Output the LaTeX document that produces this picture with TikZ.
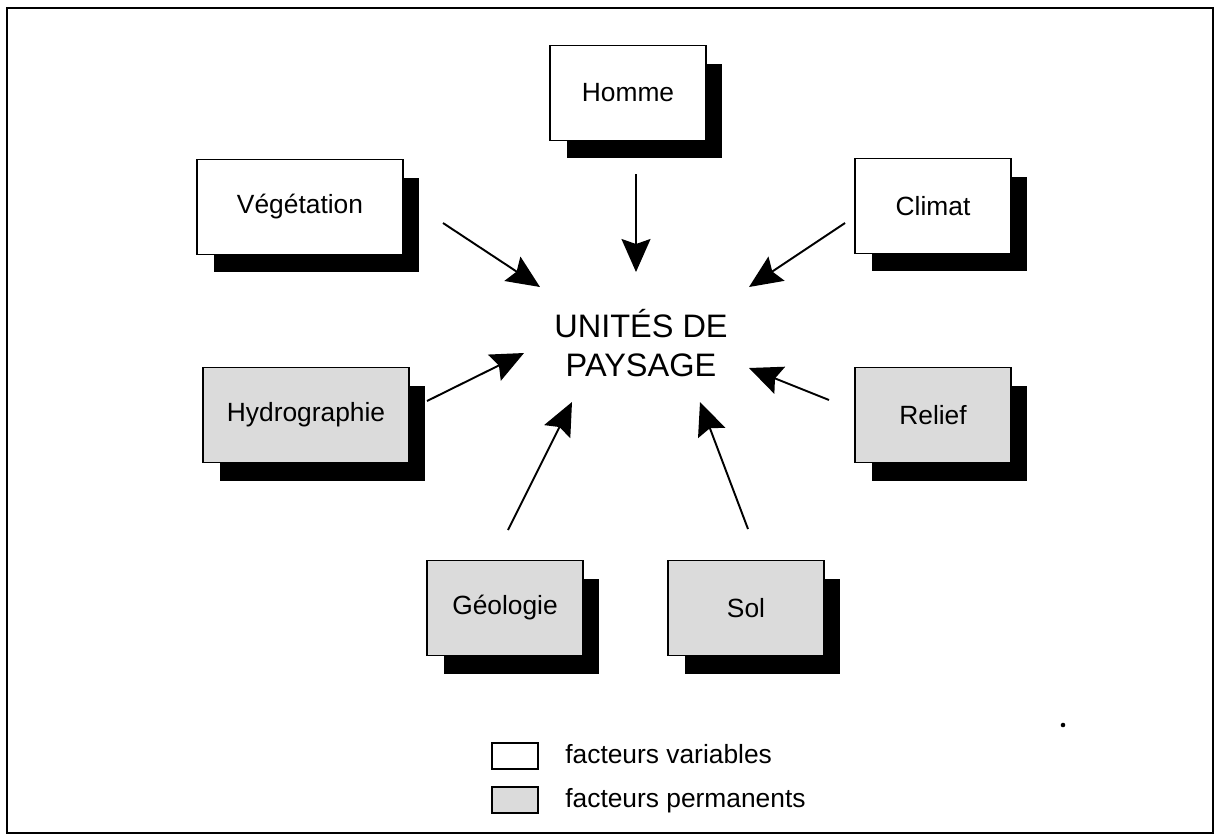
\documentclass[tikz,border=0pt]{standalone}
\usepackage{fontspec}
\setmainfont{Liberation Sans}
\usetikzlibrary{arrows.meta,shadows}

\tikzset{
  facteur/.style={draw, line width=1.1pt, minimum width=3.12cm, minimum height=1.9cm,
    font=\fontsize{15}{18}\selectfont,
    drop shadow={shadow xshift=0.33cm, shadow yshift=-0.36cm, fill=black, opacity=1}},
  fvariable/.style={facteur, fill=white},
  fpermanent/.style={facteur, fill=black!14},
  legende/.style={draw, line width=1.1pt, minimum width=0.92cm, minimum height=0.52cm, inner sep=0pt},
  fleche/.style={-{Stealth[length=0.66cm,width=0.58cm,inset=0.1cm]}, line width=1.1pt}
}

\begin{document}
\begin{tikzpicture}[x=0.02cm, y=-0.02cm]
  \useasboundingbox (0,0) rectangle (1216,836);
  \draw[line width=1.5pt] (7,8) rectangle (1213,833);

  % facteurs
  \node[fvariable] (homme) at (628,93) {Homme};
  \node[fvariable, minimum width=4.12cm] (vegetation) at (300,207) {Végétation};
  \node[fvariable] (climat) at (933,206) {Climat};
  \node[fpermanent, minimum width=4.12cm] (hydro) at (306,415) {Hydrographie};
  \node[fpermanent] (relief) at (933,415) {Relief};
  \node[fpermanent] (geologie) at (505,608) {Géologie};
  \node[fpermanent] (sol) at (746,608) {Sol};

  \node[align=center, font=\fontsize{18.5}{22.2}\selectfont] (unites) at (641,343) {UNITÉS DE\\PAYSAGE};

  % bouts des fleches
  \coordinate (homme-a) at (636,174);    \coordinate (homme-b) at (636,272);
  \coordinate (veg-a) at (443,223);      \coordinate (veg-b) at (540,287);
  \coordinate (climat-a) at (845,223);   \coordinate (climat-b) at (749,287);
  \coordinate (hydro-a) at (427,401);    \coordinate (hydro-b) at (524,353);
  \coordinate (relief-a) at (829,400);   \coordinate (relief-b) at (749,368);
  \coordinate (geol-a) at (508,530);     \coordinate (geol-b) at (572,402);
  \coordinate (sol-a) at (748,529);      \coordinate (sol-b) at (700,402);

  \path[fleche]
    (homme-a) edge (homme-b)
    (veg-a) edge (veg-b)
    (climat-a) edge (climat-b)
    (hydro-a) edge (hydro-b)
    (relief-a) edge (relief-b)
    (geol-a) edge (geol-b)
    (sol-a) edge (sol-b);

  % legende
  \node[legende, fill=white] (leg-var) at (515,756) {};
  \node[legende, fill=black!14] (leg-perm) at (515,800) {};
  \node[anchor=base west, inner sep=0pt, font=\fontsize{15}{18}\selectfont] (leg-var-txt) at (565,763) {facteurs variables};
  \node[anchor=base west, inner sep=0pt, font=\fontsize{15}{18}\selectfont] (leg-perm-txt) at (565,807) {facteurs permanents};

  \fill (1063,725) circle[radius=1.3pt];
\end{tikzpicture}
\end{document}
